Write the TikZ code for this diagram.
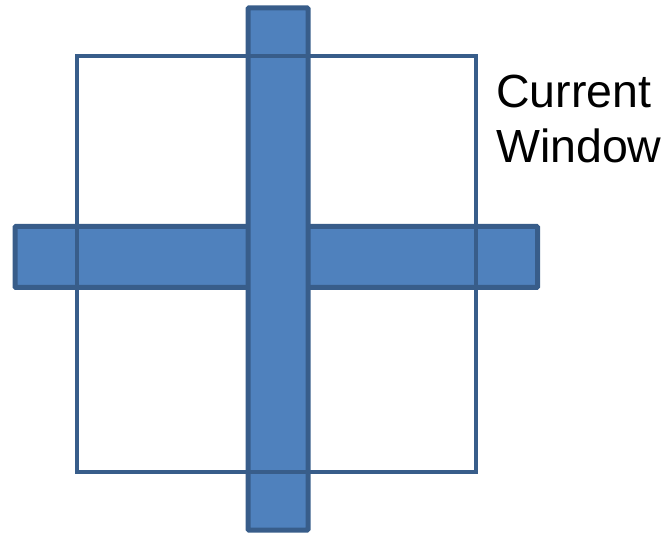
\documentclass[tikz,border=0pt]{standalone}
\usepackage{fontspec}
\setmainfont{Liberation Sans}
\definecolor{barfill}{HTML}{4F81BD}
\definecolor{barline}{HTML}{385D8A}
\tikzset{
  bar/.style={fill=barfill,draw=barline,line width=5pt,rounded corners=1pt},
  win/.style={draw=barline,line width=3.5pt},
  lbl/.style={font=\fontsize{46.5}{52}\selectfont,inner sep=0pt,anchor=base west}
}
\begin{document}
\begin{tikzpicture}[x=1pt,y=-1pt]
\useasboundingbox (0,0) rectangle (669,534);
\path[bar] (15,226.5) rectangle (537.5,287.5);
\path[bar] (248,8) rectangle (308,530);
\draw[win] (77,56) rectangle (476,472);
\node[lbl] (cur) at (496,108) {Current};
\node[lbl] (wnd) at (496,162.5) {Window};
\end{tikzpicture}
\end{document}
